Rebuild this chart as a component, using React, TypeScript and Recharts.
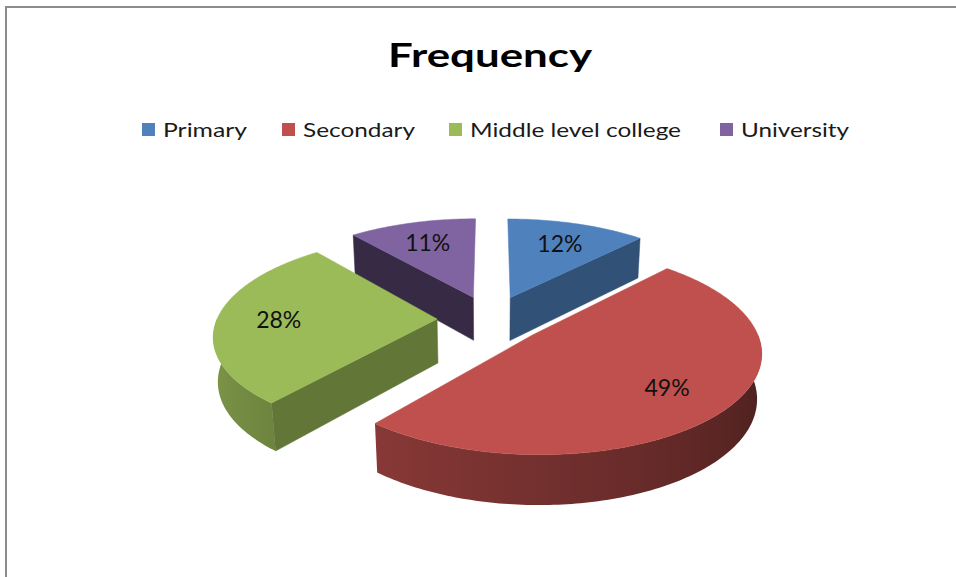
import React from 'react';
import { PieChart, Pie, Cell } from 'recharts';

const categories = ['Primary', 'Secondary', 'Middle level college', 'University'];
const percents = [12, 49, 28, 11];
const colors = ['#4F81BD', '#C0504D', '#9BBB59', '#8064A2'];

const chartData = categories.map((name, i) => ({ name, value: percents[i] }));

// legend layout (left edge of each swatch, text width)
const legendX = [142, 282, 449, 720];
const legendW = [84, 112, 211, 108];

// fake 3D view
const RAD = Math.PI / 180;
const TILT = 26 * RAD;
const DIST = 6;
const EXPLODE = 0.245;
const DEPTH = 0.226;
const LABEL_POS = 0.72;

function project(cx: number, cy: number, r: number, X: number, Y: number, Z: number) {
  const yc = Y * Math.cos(TILT) + Z * Math.sin(TILT);
  const zc = -Y * Math.sin(TILT) + Z * Math.cos(TILT);
  const k = (r * DIST) / (DIST + zc);
  return [cx + k * X, cy - k * yc];
}

function shade(hex: string, f: number) {
  const n = parseInt(hex.slice(1), 16);
  const r = Math.round(((n >> 16) & 255) * f);
  const g = Math.round(((n >> 8) & 255) * f);
  const b = Math.round((n & 255) * f);
  return `rgb(${r},${g},${b})`;
}

const toPath = (pts: number[][]) =>
  pts.map((p, i) => `${i ? 'L' : 'M'}${p[0].toFixed(2)},${p[1].toFixed(2)}`).join(' ') + ' Z';

const wallShade = (a: number) => {
  const t = ((((a % 360) + 360) % 360) - 180) / 180;
  return 0.85 - 0.5 * Math.min(1, Math.max(0, t));
};

const makeSlice = (layer: 'back' | 'front') => (props: any) => {
  const { cx, cy, outerRadius, startAngle, endAngle, midAngle, fill, name } = props;
  const isBack = Math.sin(midAngle * RAD) > 0.05;
  if (isBack !== (layer === 'back')) return <g />;

  const ox = EXPLODE * Math.cos(midAngle * RAD);
  const oz = EXPLODE * Math.sin(midAngle * RAD);
  const P = (a: number, Y: number) =>
    project(cx, cy, outerRadius, ox + Math.cos(a * RAD), Y, oz + Math.sin(a * RAD));
  const C = (Y: number) => project(cx, cy, outerRadius, ox, Y, oz);

  const n = Math.max(2, Math.ceil(Math.abs(endAngle - startAngle)));
  const angles: number[] = [];
  for (let i = 0; i <= n; i++) angles.push(startAngle + ((endAngle - startAngle) * i) / n);

  // outer wall, only the part facing the viewer
  const lo = Math.min(startAngle, endAngle);
  const hi = Math.max(startAngle, endAngle);
  const wallAngles = [...angles];
  for (let k = Math.ceil(lo / 180); k * 180 < hi; k++) wallAngles.push(k * 180);
  wallAngles.sort((a, b) => b - a);
  const front = wallAngles.filter((a) => Math.sin(a * RAD) <= 1e-6);

  let wall = null;
  if (front.length > 1) {
    const topPts = front.map((a) => P(a, 0));
    const botPts = front.map((a) => P(a, -DEPTH)).reverse();
    const xs = topPts.map((p) => p[0]);
    const xmin = Math.min(...xs);
    const xmax = Math.max(...xs);
    const stops = front
      .map((a, i) => ({ off: (xs[i] - xmin) / (xmax - xmin || 1), col: shade(fill, wallShade(a)) }))
      .sort((p, q) => p.off - q.off);
    const gid = `wall-${String(name).replace(/\s+/g, '-')}-${layer}`;
    wall = (
      <g>
        <defs>
          <linearGradient id={gid} gradientUnits="userSpaceOnUse" x1={xmin} y1={0} x2={xmax} y2={0}>
            {stops.map((s, i) => (
              <stop key={i} offset={s.off} stopColor={s.col} />
            ))}
          </linearGradient>
        </defs>
        <path d={toPath([...topPts, ...botPts])} fill={`url(#${gid})`} />
      </g>
    );
  }

  // cut faces
  const cuts: JSX.Element[] = [];
  const cutFace = (a: number, normal: number, key: string) => {
    const col = shade(fill, Math.cos(normal * RAD) > 0 ? 0.63 : 0.42);
    cuts.push(
      <path
        key={key}
        d={toPath([C(0), P(a, 0), P(a, -DEPTH), C(-DEPTH)])}
        fill={col}
        stroke={col}
        strokeWidth={0.5}
      />
    );
  };
  if (Math.cos(startAngle * RAD) < -0.01) cutFace(startAngle, startAngle + 90, 'cs');
  if (Math.cos(endAngle * RAD) > 0.01) cutFace(endAngle, endAngle - 90, 'ce');

  const top = [C(0), ...angles.map((a) => P(a, 0))];

  return (
    <g>
      {wall}
      {cuts}
      <path d={toPath(top)} fill={fill} stroke={fill} strokeWidth={0.5} />
    </g>
  );
};

const backSlice = makeSlice('back');
const frontSlice = makeSlice('front');

const renderLabel = (props: any) => {
  const { cx, cy, outerRadius, midAngle, value } = props;
  const m = midAngle * RAD;
  const [x, y] = project(
    cx,
    cy,
    outerRadius,
    (EXPLODE + LABEL_POS) * Math.cos(m),
    0,
    (EXPLODE + LABEL_POS) * Math.sin(m)
  );
  return (
    <text
      x={x}
      y={y}
      textAnchor="middle"
      dominantBaseline="central"
      fontFamily="Lato, 'Open Sans', sans-serif"
      fontSize={23}
      fill="#111"
    >
      {`${value}%`}
    </text>
  );
};

export default function App() {
  return (
    <div
      style={{
        position: 'absolute',
        left: 0,
        top: 0,
        width: 956,
        height: 577,
        overflow: 'hidden',
        background: '#fff',
      }}
    >
      <div
        style={{
          position: 'absolute',
          left: 5,
          top: 6,
          width: 980,
          height: 600,
          borderTop: '2px solid #8c8c8c',
          borderLeft: '2px solid #8c8c8c',
        }}
      />
      <svg width={956} height={160} style={{ position: 'absolute', left: 0, top: 0 }}>
        <text
          x={388}
          y={67}
          fontFamily="Lato, 'Open Sans', sans-serif"
          fontWeight={700}
          fontSize={32}
          textLength={204}
          lengthAdjust="spacingAndGlyphs"
          fill="#000"
        >
          Frequency
        </text>
        {categories.map((c, i) => (
          <g key={c}>
            <rect x={legendX[i]} y={123} width={13} height={13} fill={colors[i]} />
            <text
              x={legendX[i] + 21}
              y={137}
              fontFamily="Lato, 'Open Sans', sans-serif"
              fontSize={20}
              textLength={legendW[i]}
              lengthAdjust="spacingAndGlyphs"
              fill="#1a1a1a"
            >
              {c}
            </text>
          </g>
        ))}
      </svg>
      <div style={{ position: 'absolute', left: 0, top: 0 }}>
        <PieChart width={956} height={577} margin={{ top: 0, right: 0, bottom: 0, left: 0 }}>
          <Pie
            data={chartData}
            dataKey="value"
            nameKey="name"
            cx={491}
            cy={319}
            outerRadius={220}
            startAngle={90}
            endAngle={-270}
            stroke="none"
            shape={backSlice}
            inactiveShape={backSlice}
            activeShape={backSlice}
            label={false}
            labelLine={false}
            isAnimationActive={false}
          >
            {chartData.map((d, i) => (
              <Cell key={d.name} fill={colors[i]} />
            ))}
          </Pie>
          <Pie
            data={chartData}
            dataKey="value"
            nameKey="name"
            cx={491}
            cy={319}
            outerRadius={220}
            startAngle={90}
            endAngle={-270}
            stroke="none"
            shape={frontSlice}
            inactiveShape={frontSlice}
            activeShape={frontSlice}
            label={renderLabel}
            labelLine={false}
            isAnimationActive={false}
          >
            {chartData.map((d, i) => (
              <Cell key={d.name} fill={colors[i]} />
            ))}
          </Pie>
        </PieChart>
      </div>
    </div>
  );
}
